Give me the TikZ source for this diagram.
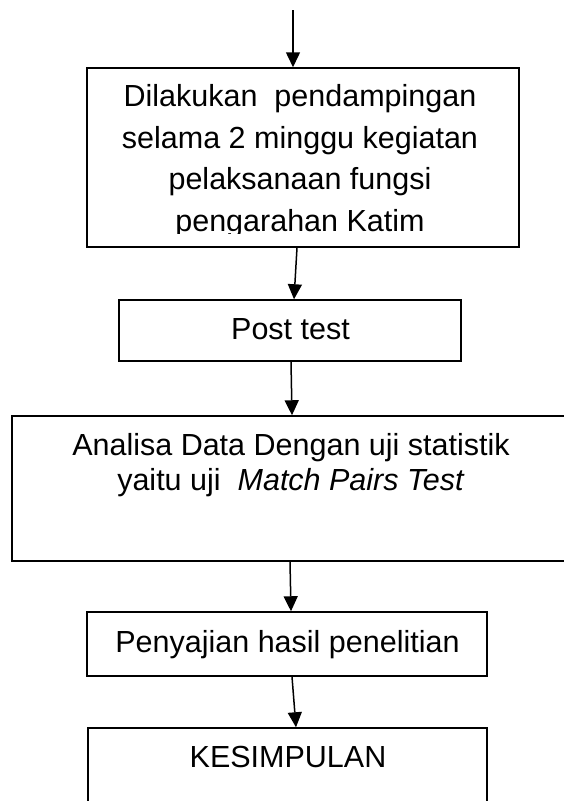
\documentclass[tikz,border=0pt]{standalone}
\usepackage{fontspec}
\setmainfont{Liberation Sans}
\usetikzlibrary{arrows.meta}
\begin{document}
\begin{tikzpicture}[x=1pt,y=-1pt,
  box/.style={draw, line width=1.5pt, inner sep=0pt},
  label/.style={inner sep=0pt, align=center, font=\fontsize{30.5}{41.5}\selectfont},
  arr/.style={line width=1.5pt, -{Triangle[width=14pt,length=15pt]}}]
\useasboundingbox (0,0) rectangle (564,801);
\fill[white] (0,0) rectangle (564,801);

% process boxes
\node[box, minimum width=432pt, minimum height=179pt] (b1) at (303,157.5) {};
\node[box, minimum width=342pt, minimum height=61pt]  (b2) at (290,330.5) {};
\node[box, minimum width=568pt, minimum height=145pt] (b3) at (296,488.5) {};
\node[box, minimum width=400pt, minimum height=64pt]  (b4) at (287,644) {};
\node[box, minimum width=399pt, minimum height=102pt] (b5) at (287.5,779) {};

% box texts (the last line of the first box is cut off by its frame)
\begin{scope}
  \clip (87,68) rectangle (519,233);
  \node[label, anchor=north] (t1) at (300,84.2)
    {Dilakukan\ \ pendampingan\\selama 2 minggu kegiatan\\pelaksanaan fungsi\\pengarahan Katim};
\end{scope}
\node[label, anchor=base] (t2) at (290.5,339) {Post test};
\node[label, anchor=north, font=\fontsize{30.5}{35}\selectfont] (t3) at (291,433.2)
  {Analisa Data Dengan uji statistik\\yaitu uji\ \ \textit{Match Pairs Test}};
\node[label, anchor=base] (t4) at (287.5,652) {Penyajian hasil penelitian};
\node[label, anchor=base] (t5) at (288,767) {KESIMPULAN};

% connectors
\coordinate (start) at (293,10);
\draw[arr] (start) -- ([xshift=-10pt]b1.north);
\draw[arr] ([xshift=-6pt]b1.south) -- ([xshift=4pt]b2.north);
\draw[arr] ([xshift=1pt]b2.south) -- ([xshift=-4pt]b3.north);
\draw[arr] ([xshift=-6pt]b3.south) -- ([xshift=4pt]b4.north);
\draw[arr] ([xshift=5pt]b4.south) -- ([xshift=8.5pt]b5.north);
\end{tikzpicture}
\end{document}
